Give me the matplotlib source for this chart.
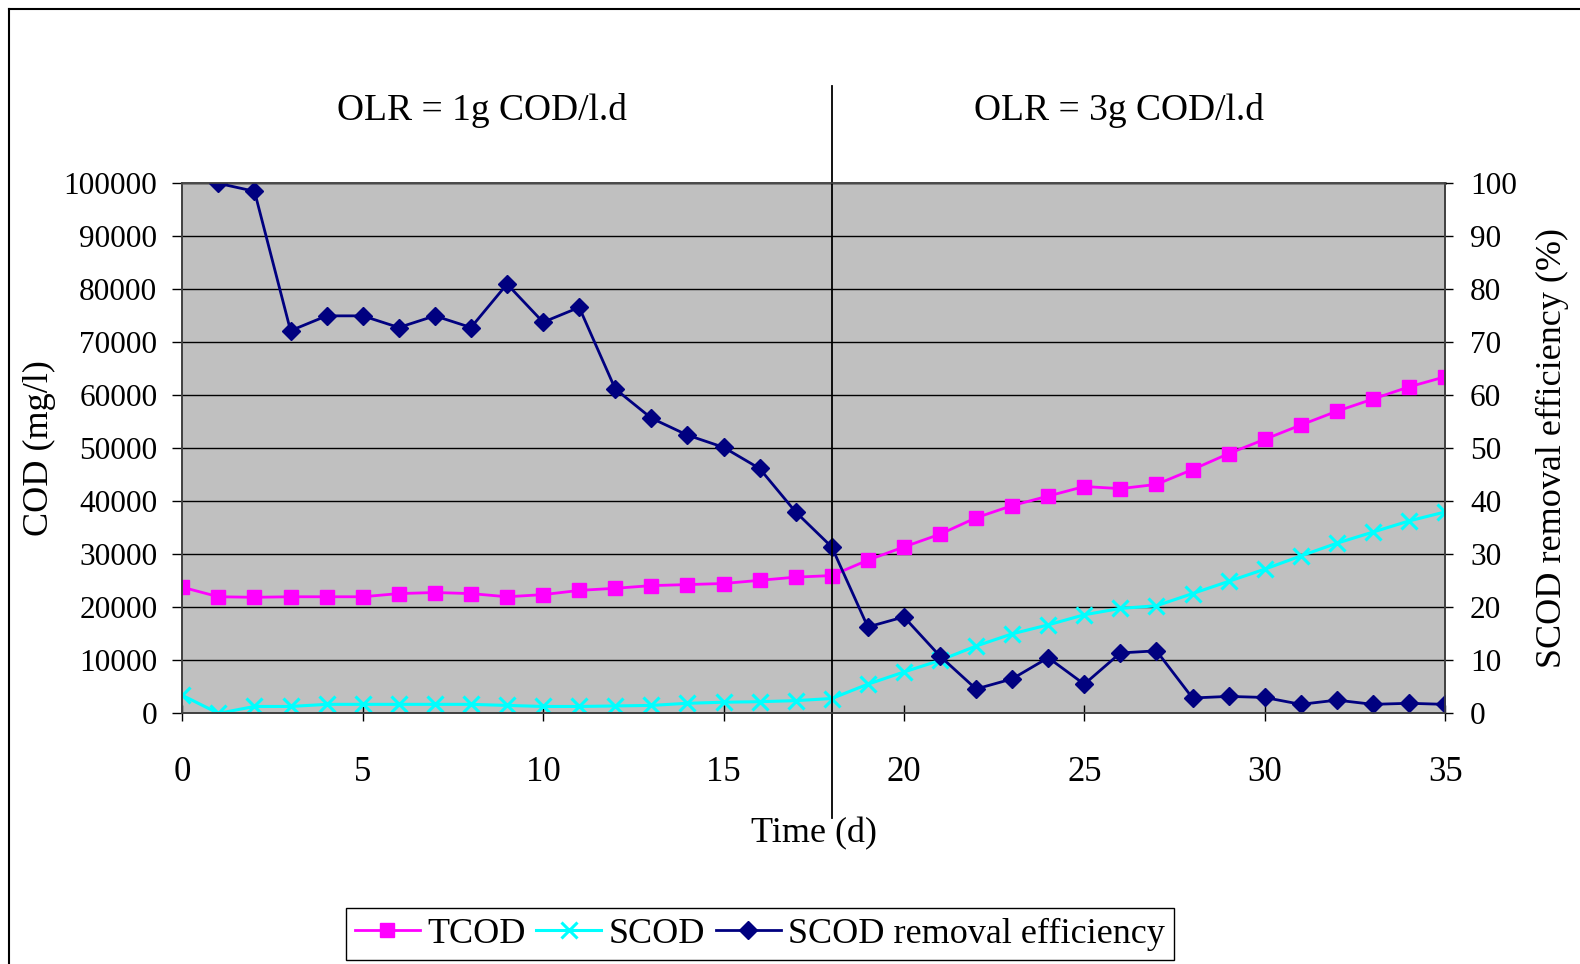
import matplotlib.pyplot as plt
from matplotlib.lines import Line2D

plt.rcParams['font.family'] = ['Liberation Serif', 'DejaVu Serif']

# data
days = list(range(0, 36))
tcod = [23800, 22000, 21900, 22000, 22000, 22000, 22600, 22800, 22600, 22000,
        22400, 23200, 23600, 24100, 24300, 24500, 25100, 25700, 26000, 28900,
        31400, 33800, 36900, 39200, 41000, 42800, 42400, 43200, 46000, 49000,
        51700, 54400, 57000, 59300, 61600, 63500]
scod = [3400, 0, 1300, 1300, 1700, 1700, 1700, 1700, 1700, 1500,
        1300, 1300, 1400, 1500, 1900, 2100, 2200, 2400, 2800, 5500,
        7800, 10000, 12700, 15000, 16700, 18600, 19800, 20300, 22600, 24900,
        27200, 29700, 32100, 34200, 36300, 38000]
eff_days = list(range(1, 36))
eff = [100, 98.5, 72.2, 75, 75, 72.8, 75, 72.8, 81, 73.8,
       76.6, 61.2, 55.7, 52.5, 50.2, 46.2, 38, 31.4, 16.3, 18.2,
       10.8, 4.6, 6.5, 10.5, 5.5, 11.4, 11.8, 2.9, 3.2, 3.0,
       1.7, 2.5, 1.7, 1.9, 1.7]
switch_day = 18
phase_labels = ['OLR = 1g COD/l.d', 'OLR = 3g COD/l.d']

fig = plt.figure(figsize=(15.8, 9.64), dpi=100)
ax = fig.add_axes([0.1154, 0.2600, 0.7992, 0.5498])
ax2 = ax.twinx()
ax.set_zorder(1)
ax2.set_zorder(2)
ax2.patch.set_visible(False)

ax.set_facecolor('#c0c0c0')
ax.set_axisbelow(True)
ax.yaxis.grid(True, color='black', lw=1.0)

l1, = ax.plot(days, tcod, color='#ff00ff', lw=2, marker='s', ms=10.5,
              label='TCOD')
l2, = ax.plot(days, scod, color='#00ffff', lw=2.2, marker='x', ms=12,
              mew=2.2, label='SCOD')
l3, = ax2.plot(eff_days, eff, color='#000080', lw=2, marker='D', ms=9,
               label='SCOD removal efficiency')

ax.set_xlim(0, 35)
ax.set_ylim(0, 100000)
ax2.set_ylim(0, 100)
ax.set_xticks(range(0, 36, 5))
ax.set_yticks(range(0, 100001, 10000))
ax2.set_yticks(range(0, 101, 10))

ax.tick_params(axis='y', direction='out', length=7, width=1, labelsize=22.5, pad=11)
ax.tick_params(axis='x', direction='inout', length=12, width=1, labelsize=25, pad=25)
ax2.tick_params(axis='y', direction='out', length=6, width=1, labelsize=22.5, pad=12)

for a in (ax, ax2):
    for s in a.spines.values():
        s.set_color('#404040')
        s.set_linewidth(1.2)
ax.spines['top'].set_color('#808080')
ax.spines['top'].set_linewidth(2)

ax.set_ylabel('COD (mg/l)', fontsize=26, va='center')
ax.yaxis.set_label_coords(-0.1128, 0.5)
ax2.set_ylabel('SCOD removal efficiency (%)', fontsize=26, va='center')
ax2.yaxis.set_label_coords(1.0847, 0.5)
ax.set_xlabel('Time (d)', fontsize=26, va='center')
ax.xaxis.set_label_coords(0.500, -0.2275)

# phase divider and labels
ax2.axvline(switch_day, ymin=-0.197, ymax=1.184, color='black', lw=1.3,
            clip_on=False)
ax.text(0.237, 1.137, phase_labels[0], transform=ax.transAxes, fontsize=27,
        ha='center', va='center')
ax.text(0.7415, 1.137, phase_labels[1], transform=ax.transAxes, fontsize=27,
        ha='center', va='center')

fig.legend(handles=[l1, l2, l3], loc='center', bbox_to_anchor=(0.481, 0.031),
           ncol=3, fontsize=26, frameon=True, fancybox=False, edgecolor='black',
           framealpha=1, handlelength=1.8, handletextpad=0.2, columnspacing=0.3,
           borderpad=0.25, borderaxespad=0)

# outer frame
fig.add_artist(Line2D([0.0057, 1], [0.9907, 0.9907], color='black', lw=1.5,
                      transform=fig.transFigure))
fig.add_artist(Line2D([0.0057, 0.0057], [0, 0.9907], color='black', lw=1.5,
                      transform=fig.transFigure))

fig.savefig('out.png', dpi=100)
